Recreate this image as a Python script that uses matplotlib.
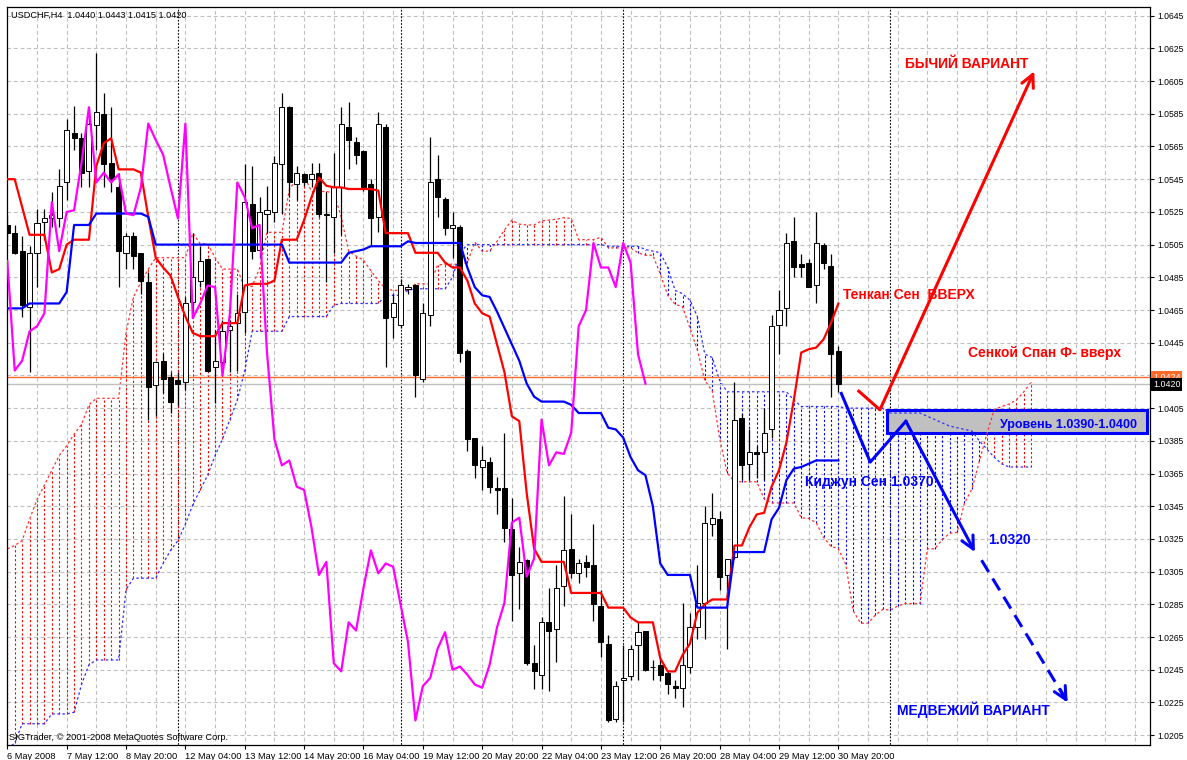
import numpy as np
import matplotlib.pyplot as plt
import matplotlib.transforms as mtransforms
from matplotlib.patches import Rectangle

plt.rcParams['font.family'] = ['Liberation Sans', 'DejaVu Sans']

# USDCHF H4, 6 May 04:00 .. 30 May 20:00 (bar index 0..112)
opens = [1.0517, 1.0512, 1.0501, 1.0467, 1.0500, 1.0519, 1.0521, 1.0521, 1.0543, 1.0573,
         1.0570, 1.0550, 1.0578, 1.0585, 1.0555, 1.0540, 1.0500, 1.0510, 1.0500, 1.0482,
         1.0419, 1.0434, 1.0424, 1.0422, 1.0421, 1.0470, 1.0483, 1.0496, 1.0430, 1.0433,
         1.0453, 1.0457, 1.0464, 1.0530, 1.0502, 1.0524, 1.0525, 1.0554, 1.0589, 1.0542,
         1.0548, 1.0545, 1.0549, 1.0524, 1.0522, 1.0540, 1.0577, 1.0568, 1.0562, 1.0542,
         1.0522, 1.0577, 1.0461, 1.0456, 1.0478, 1.0480, 1.0423, 1.0462, 1.0545, 1.0533,
         1.0515, 1.0516, 1.0440, 1.0387, 1.0369, 1.0372, 1.0356, 1.0356, 1.0331, 1.0304,
         1.0312, 1.0249, 1.0242, 1.0274, 1.0270, 1.0296, 1.0319, 1.0304, 1.0311, 1.0309,
         1.0284, 1.0261, 1.0215, 1.0239, 1.0241, 1.0260, 1.0269, 1.0247, 1.0248, 1.0243,
         1.0235, 1.0234, 1.0247, 1.0271, 1.0286, 1.0334, 1.0337, 1.0303, 1.0314, 1.0399,
         1.0371, 1.0378, 1.0378, 1.0392, 1.0456, 1.0466, 1.0507, 1.0493, 1.0494, 1.0480,
         1.0505, 1.0492, 1.0440]
highs = [1.0523, 1.0517, 1.0510, 1.0504, 1.0527, 1.0527, 1.0537, 1.0551, 1.0582, 1.0590,
         1.0573, 1.0589, 1.0622, 1.0598, 1.0589, 1.0549, 1.0512, 1.0513, 1.0500, 1.0488,
         1.0434, 1.0439, 1.0427, 1.0427, 1.0473, 1.0512, 1.0504, 1.0497, 1.0453, 1.0459,
         1.0459, 1.0475, 1.0554, 1.0553, 1.0534, 1.0541, 1.0559, 1.0598, 1.0590, 1.0553,
         1.0549, 1.0555, 1.0555, 1.0537, 1.0561, 1.0589, 1.0592, 1.0571, 1.0563, 1.0545,
         1.0586, 1.0579, 1.0475, 1.0484, 1.0481, 1.0481, 1.0469, 1.0571, 1.0560, 1.0534,
         1.0525, 1.0517, 1.0441, 1.0387, 1.0382, 1.0375, 1.0363, 1.0390, 1.0350, 1.0320,
         1.0313, 1.0260, 1.0277, 1.0295, 1.0309, 1.0351, 1.0340, 1.0313, 1.0315, 1.0334,
         1.0294, 1.0266, 1.0238, 1.0260, 1.0260, 1.0274, 1.0269, 1.0251, 1.0252, 1.0244,
         1.0239, 1.0286, 1.0280, 1.0309, 1.0345, 1.0353, 1.0342, 1.0313, 1.0421, 1.0402,
         1.0392, 1.0382, 1.0405, 1.0462, 1.0477, 1.0512, 1.0522, 1.0499, 1.0496, 1.0525,
         1.0506, 1.0499, 1.0443]
lows = [1.0508, 1.0499, 1.0461, 1.0427, 1.0479, 1.0508, 1.0516, 1.0516, 1.0532, 1.0563,
        1.0540, 1.0540, 1.0563, 1.0540, 1.0537, 1.0479, 1.0490, 1.0490, 1.0475, 1.0398,
        1.0400, 1.0414, 1.0402, 1.0406, 1.0416, 1.0463, 1.0479, 1.0427, 1.0408, 1.0427,
        1.0427, 1.0428, 1.0451, 1.0496, 1.0497, 1.0512, 1.0519, 1.0524, 1.0534, 1.0532,
        1.0541, 1.0540, 1.0522, 1.0482, 1.0500, 1.0511, 1.0551, 1.0554, 1.0538, 1.0504,
        1.0513, 1.0430, 1.0448, 1.0454, 1.0475, 1.0412, 1.0421, 1.0455, 1.0522, 1.0511,
        1.0497, 1.0433, 1.0379, 1.0362, 1.0355, 1.0353, 1.0340, 1.0323, 1.0275, 1.0282,
        1.0248, 1.0233, 1.0233, 1.0232, 1.0250, 1.0284, 1.0301, 1.0298, 1.0302, 1.0275,
        1.0253, 1.0213, 1.0213, 1.0213, 1.0239, 1.0239, 1.0244, 1.0239, 1.0238, 1.0230,
        1.0228, 1.0222, 1.0243, 1.0264, 1.0264, 1.0327, 1.0294, 1.0258, 1.0313, 1.0361,
        1.0361, 1.0362, 1.0361, 1.0387, 1.0438, 1.0455, 1.0485, 1.0485, 1.0479, 1.0469,
        1.0490, 1.0412, 1.0415]
closes = [1.0512, 1.0500, 1.0468, 1.0500, 1.0518, 1.0521, 1.0523, 1.0541, 1.0575, 1.0570,
          1.0549, 1.0579, 1.0586, 1.0554, 1.0545, 1.0501, 1.0510, 1.0498, 1.0483, 1.0418,
          1.0433, 1.0423, 1.0409, 1.0420, 1.0469, 1.0485, 1.0495, 1.0428, 1.0434, 1.0452,
          1.0455, 1.0463, 1.0531, 1.0501, 1.0525, 1.0526, 1.0555, 1.0589, 1.0543, 1.0549,
          1.0543, 1.0548, 1.0524, 1.0523, 1.0540, 1.0579, 1.0569, 1.0560, 1.0540, 1.0521,
          1.0579, 1.0460, 1.0469, 1.0480, 1.0479, 1.0425, 1.0463, 1.0543, 1.0534, 1.0515,
          1.0517, 1.0439, 1.0386, 1.0370, 1.0373, 1.0357, 1.0355, 1.0332, 1.0303, 1.0311,
          1.0249, 1.0244, 1.0274, 1.0269, 1.0295, 1.0318, 1.0304, 1.0310, 1.0308, 1.0285,
          1.0262, 1.0214, 1.0235, 1.0240, 1.0258, 1.0268, 1.0245, 1.0247, 1.0242, 1.0236,
          1.0234, 1.0248, 1.0271, 1.0286, 1.0335, 1.0338, 1.0302, 1.0313, 1.0398, 1.0370,
          1.0378, 1.0377, 1.0390, 1.0455, 1.0465, 1.0506, 1.0491, 1.0491, 1.0479, 1.0506,
          1.0494, 1.0438, 1.0420]

tenkan = [1.0545, 1.0545, 1.0528, 1.0511, 1.0511, 1.0511, 1.0488, 1.0490, 1.0505, 1.0508,
          1.0508, 1.0508, 1.0553, 1.0567, 1.0570, 1.0551, 1.0551, 1.0551, 1.0549, 1.0522,
          1.0497, 1.0491, 1.0486, 1.0473, 1.0461, 1.0451, 1.0449, 1.0449, 1.0449, 1.0457,
          1.0457, 1.0457, 1.0480, 1.0481, 1.0481, 1.0481, 1.0483, 1.0508, 1.0508, 1.0508,
          1.0520, 1.0534, 1.0546, 1.0541, 1.0540, 1.0540, 1.0539, 1.0539, 1.0539, 1.0539,
          1.0538, 1.0512, 1.0512, 1.0512, 1.0512, 1.0500, 1.0500, 1.0500, 1.0500, 1.0494,
          1.0491, 1.0491, 1.0483, 1.0469, 1.0463, 1.0461, 1.0444, 1.0427, 1.0400, 1.0397,
          1.0353, 1.0319, 1.0311, 1.0311, 1.0311, 1.0311, 1.0292, 1.0292, 1.0292, 1.0292,
          1.0292, 1.0283, 1.0283, 1.0283, 1.0277, 1.0274, 1.0274, 1.0274, 1.0252, 1.0244,
          1.0244, 1.0254, 1.0261, 1.0280, 1.0285, 1.0288, 1.0288, 1.0288, 1.0321, 1.0321,
          1.0332, 1.0340, 1.0341, 1.0357, 1.0367, 1.0384, 1.0410, 1.0439, 1.0441, 1.0442,
          1.0447, 1.0457, 1.0469]
kijun = [1.0466, 1.0466, 1.0466, 1.0469, 1.0469, 1.0469, 1.0469, 1.0469, 1.0476, 1.0517,
         1.0517, 1.0517, 1.0524, 1.0524, 1.0524, 1.0524, 1.0524, 1.0524, 1.0524, 1.0522,
         1.0505, 1.0505, 1.0505, 1.0505, 1.0505, 1.0505, 1.0505, 1.0505, 1.0505, 1.0505,
         1.0505, 1.0505, 1.0505, 1.0505, 1.0505, 1.0505, 1.0505, 1.0505, 1.0494, 1.0494,
         1.0494, 1.0494, 1.0494, 1.0494, 1.0494, 1.0494, 1.0500, 1.0501, 1.0502, 1.0504,
         1.0504, 1.0504, 1.0504, 1.0504, 1.0507, 1.0506, 1.0506, 1.0506, 1.0506, 1.0506,
         1.0506, 1.0506, 1.0491, 1.0479, 1.0474, 1.0473, 1.0464, 1.0454, 1.0444, 1.0434,
         1.0420, 1.0412, 1.0409, 1.0409, 1.0409, 1.0409, 1.0407, 1.0402, 1.0402, 1.0402,
         1.0402, 1.0393, 1.0392, 1.0387, 1.0375, 1.0367, 1.0364, 1.0345, 1.0310, 1.0303,
         1.0303, 1.0303, 1.0303, 1.0283, 1.0283, 1.0283, 1.0283, 1.0283, 1.0317, 1.0317,
         1.0317, 1.0317, 1.0317, 1.0337, 1.0344, 1.0361, 1.0368, 1.0369, 1.0371, 1.0373,
         1.0373, 1.0373, 1.0373]

# Senkou Span A for the first 26 bars (comes from bars left of the window)
span_a_head = [1.0319, 1.0321, 1.0324, 1.0337, 1.0349, 1.0358, 1.0367, 1.0376, 1.0382, 1.0389,
               1.0395, 1.0407, 1.0411, 1.0411, 1.0411, 1.0411, 1.0451, 1.0473, 1.0482, 1.0490,
               1.0497, 1.0497, 1.0497, 1.0497, 1.0497, 1.0512]
# Senkou Span B, bars 0..138 (26 bars into the future)
span_b = [1.0197, 1.0200, 1.0212, 1.0212, 1.0212, 1.0212, 1.0218, 1.0218, 1.0218, 1.0219,
          1.0236, 1.0248, 1.0251, 1.0251, 1.0251, 1.0251, 1.0294, 1.0301, 1.0301, 1.0301,
          1.0301, 1.0310, 1.0318, 1.0324, 1.0334, 1.0346, 1.0355, 1.0364, 1.0376, 1.0386,
          1.0398, 1.0410, 1.0428, 1.0452, 1.0452, 1.0452, 1.0452, 1.0452, 1.0461, 1.0461,
          1.0461, 1.0461, 1.0461, 1.0461, 1.0468, 1.0469, 1.0469, 1.0469, 1.0469, 1.0469,
          1.0469, 1.0474, 1.0474, 1.0474, 1.0477, 1.0478, 1.0478, 1.0478, 1.0478, 1.0478,
          1.0485, 1.0500, 1.0505, 1.0505, 1.0505, 1.0505, 1.0505, 1.0505, 1.0505, 1.0505,
          1.0505, 1.0505, 1.0505, 1.0505, 1.0505, 1.0505, 1.0505, 1.0505, 1.0505, 1.0505,
          1.0505, 1.0504, 1.0504, 1.0504, 1.0504, 1.0504, 1.0502, 1.0501, 1.0500, 1.0491,
          1.0477, 1.0475, 1.0471, 1.0461, 1.0438, 1.0436, 1.0422, 1.0415, 1.0415, 1.0415,
          1.0415, 1.0415, 1.0415, 1.0415, 1.0415, 1.0415, 1.0410, 1.0406, 1.0406, 1.0406,
          1.0406, 1.0406, 1.0406, 1.0405, 1.0405, 1.0405, 1.0405, 1.0405, 1.0405, 1.0402,
          1.0402, 1.0402, 1.0402, 1.0402, 1.0400, 1.0398, 1.0396, 1.0394, 1.0393, 1.0392,
          1.0391, 1.0385, 1.0380, 1.0375, 1.0371, 1.0369, 1.0369, 1.0369, 1.0369]

price_ticks = [1.0205, 1.0225, 1.0245, 1.0265, 1.0285, 1.0305, 1.0325, 1.0345, 1.0365, 1.0385,
               1.0405, 1.0425, 1.0445, 1.0465, 1.0485, 1.0505, 1.0525, 1.0545, 1.0565, 1.0585,
               1.0605, 1.0625, 1.0645]
label_bars = [0, 8, 16, 24, 32, 40, 48, 56, 64, 72, 80, 88, 96, 104, 112]
time_labels = ['6 May 2008', '7 May 12:00', '8 May 20:00', '12 May 04:00', '13 May 12:00',
               '14 May 20:00', '16 May 04:00', '19 May 12:00', '20 May 20:00', '22 May 04:00',
               '23 May 12:00', '26 May 20:00', '28 May 04:00', '29 May 12:00', '30 May 20:00']
separator_bars = [23, 53, 83, 119]

# hand-drawn scenario lines (bar index, price)
bull_bars = [114.6, 117.6, 138.4]
bull_prices = [1.0416, 1.0404, 1.0611]
bear_bars = [112.4, 116.3, 121.1, 130.4]
bear_prices = [1.0414, 1.0372, 1.0397, 1.0317]
bear_dash_bars = [131.3, 142.9]
bear_dash_prices = [1.0312, 1.0225]
level_low, level_high = 1.0390, 1.0404

shift = 26
o = np.array(opens)
h = np.array(highs)
l = np.array(lows)
c = np.array(closes)
n = len(c)
x = np.arange(n)
span_a = np.concatenate([span_a_head, (np.array(tenkan) + np.array(kijun)) / 2])
sb = np.array(span_b)
xc = np.arange(len(sb))

fig = plt.figure(figsize=(11.87, 7.60), dpi=100)
ax = fig.add_axes([7 / 1187, 15 / 760, 1143 / 1187, 738 / 760])
ax.set_xlim(-0.04, 154.0)
ax.set_ylim(1.01990, 1.06503)

# grid
grid_kw = dict(colors='#c0c0c0', linestyles=(0, (3.5, 2.5)), linewidth=0.8, zorder=0)
ax.hlines(price_ticks, -1, 160, **grid_kw)
ax.vlines(np.arange(4, 156, 4), 1.0, 1.1, **grid_kw)
ax.vlines(separator_bars, 1.0, 1.1, colors='black', linestyles=(0, (1.5, 1.5)),
          linewidth=0.8, zorder=0.5)

# cloud
up = span_a >= sb
ax.vlines(xc[up], sb[up], span_a[up], colors='red', linestyles=(0, (2, 2)), linewidth=0.8, zorder=1)
ax.vlines(xc[~up], span_a[~up], sb[~up], colors='blue', linestyles=(0, (2, 2)), linewidth=0.8, zorder=1)

# level box
ax.add_patch(Rectangle((118.6, level_low), 35.0, level_high - level_low, facecolor='#c0c0c0',
                       edgecolor='blue', linewidth=2.2, zorder=1.5))

ax.plot(xc, span_a, color='#ff3030', linestyle=(0, (2, 2)), linewidth=0.9, zorder=2)
ax.plot(xc, sb, color='#3030ff', linestyle=(0, (2, 2)), linewidth=0.9, zorder=2)

# price lines
ax.axhline(1.0424, color='#ff6a2a', linewidth=1.0, zorder=2)
ax.axhline(c[-1], color='#c0c0c0', linewidth=1.0, zorder=2)

# candles
ax.vlines(x, l, h, colors='black', linewidth=0.9, zorder=3)
bull = c >= o
ax.bar(x[bull], c[bull] - o[bull], bottom=o[bull], width=0.68, facecolor='white',
       edgecolor='black', linewidth=0.7, zorder=4)
ax.bar(x[~bull], o[~bull] - c[~bull], bottom=c[~bull], width=0.68, facecolor='black',
       edgecolor='black', linewidth=0.7, zorder=4)

# Ichimoku lines
ax.plot(x, tenkan, color='red', linewidth=1.6, zorder=5)
ax.plot(x, kijun, color='blue', linewidth=1.6, zorder=5)
ax.plot(x[:n - shift], c[shift:], color='magenta', linewidth=1.6, zorder=5)

# scenario drawings
ax.plot(bull_bars[:2], bull_prices[:2], color='red', linewidth=2.2, zorder=6,
        solid_capstyle='butt')
ax.annotate('', xy=(bull_bars[2], bull_prices[2]), xytext=(bull_bars[1], bull_prices[1]),
            arrowprops=dict(arrowstyle='->,head_length=0.9,head_width=0.45', color='red',
                            lw=2.2, shrinkA=0, shrinkB=0), zorder=6)
ax.plot(bear_bars[:3], bear_prices[:3], color='blue', linewidth=2.2, zorder=6)
ax.annotate('', xy=(bear_bars[3], bear_prices[3]), xytext=(bear_bars[2], bear_prices[2]),
            arrowprops=dict(arrowstyle='->,head_length=0.9,head_width=0.45', color='blue',
                            lw=2.2, shrinkA=0, shrinkB=0), zorder=6)
ax.plot(bear_dash_bars, bear_dash_prices, color='blue', linewidth=2.2,
        linestyle=(0, (4.5, 2.5)), zorder=6)
ax.annotate('', xy=(bear_dash_bars[1], bear_dash_prices[1]),
            xytext=(bear_dash_bars[1] - 1.0, bear_dash_prices[1] + 0.0008),
            arrowprops=dict(arrowstyle='->,head_length=0.9,head_width=0.45', color='blue',
                            lw=2.2, shrinkA=0, shrinkB=0), zorder=6)

txt = dict(fontsize=10, fontweight='bold', zorder=7)
ax.text(129.3, 1.06155, 'БЫЧИЙ ВАРИАНТ', color='red', ha='center', va='center', **txt)
ax.text(112.6, 1.04742, 'Тенкан Сен  ВВЕРХ', color='red', ha='left', va='center', **txt)
ax.text(129.5, 1.04387, 'Сенкой Спан Ф- вверх', color='red', ha='left', va='center', **txt)
ax.text(133.8, 1.03947, 'Уровень 1.0390-1.0400', color='blue', ha='left', va='center',
        fontsize=9, fontweight='bold', zorder=7)
ax.text(107.5, 1.03598, 'Киджун Сен 1.0370', color='blue', ha='left', va='center', **txt)
ax.text(132.2, 1.03243, '1.0320', color='blue', ha='left', va='center', **txt)
ax.text(119.9, 1.02204, 'МЕДВЕЖИЙ ВАРИАНТ', color='blue', ha='left', va='center', **txt)

# axes
ax.yaxis.tick_right()
ax.set_yticks(price_ticks)
ax.set_yticklabels(['' if abs(p - 1.0425) < 1e-6 else f'{p:.4f}' for p in price_ticks])
ax.tick_params(axis='y', direction='out', length=3, width=0.8, pad=2, labelsize=6.2)
ax.set_xticks(label_bars)
ax.set_xticklabels(time_labels, ha='left')
ax.tick_params(axis='x', direction='out', length=3, width=0.8, pad=2, labelsize=6.7)
for s in ax.spines.values():
    s.set_linewidth(0.9)
    s.set_color('black')

trans = mtransforms.blended_transform_factory(ax.transAxes, ax.transData)
ax.text(1.0025, 1.0424, '1.0424', transform=trans, fontsize=6.4, color='white', ha='left',
        va='center', bbox=dict(boxstyle='square,pad=0.2', fc='#ff6a2a', ec='none'),
        clip_on=False, zorder=8)
ax.text(1.0025, 1.04195, '1.0420', transform=trans, fontsize=6.4, color='white', ha='left',
        va='center', bbox=dict(boxstyle='square,pad=0.2', fc='black', ec='none'),
        clip_on=False, zorder=9)

fig.text(11 / 1187, 1 - 15 / 760, 'USDCHF,H4  1.0440 1.0443 1.0415 1.0420', fontsize=6.6,
         ha='left', va='center')
fig.text(9 / 1187, 1 - 738 / 760, 'SIGTrader, © 2001-2008 MetaQuotes Software Corp.',
         fontsize=6.7, ha='left', va='center')

fig.savefig('out.png', dpi=100, facecolor='white')
